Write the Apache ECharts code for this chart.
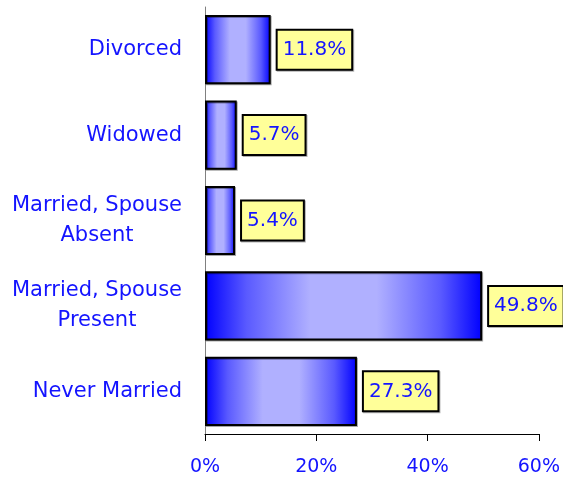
<!DOCTYPE html>
<html>
<head>
<meta charset="utf-8">
<script src="https://cdn.jsdelivr.net/npm/echarts@6/dist/echarts.min.js"></script>
<style>
  html, body { margin: 0; padding: 0; background: #fff; }
  #chart { width: 563px; height: 484px; }
</style>
</head>
<body>
<div id="chart"></div>
<script>
// bottom to top, as the category axis draws them
var categories = ['Never Married', 'Married, Spouse\nPresent', 'Married, Spouse\nAbsent', 'Widowed', 'Divorced'];
var shares = [27.3, 49.8, 5.4, 5.7, 11.8];
var xTicks = [0, 20, 40, 60];

var blue = '#1414ff';
var font = 'DejaVu Sans';

var chart = echarts.init(document.getElementById('chart'));
chart.setOption({
  animation: false,
  grid: { left: 205, right: 22, top: 7, bottom: 50 },
  xAxis: {
    type: 'value',
    min: xTicks[0],
    max: xTicks[xTicks.length - 1],
    interval: 20,
    splitLine: { show: false },
    axisLine: { show: true, lineStyle: { color: '#000', width: 1 } },
    axisTick: { show: true, length: 7, lineStyle: { color: '#000' } },
    axisLabel: {
      margin: 24,
      color: blue,
      fontFamily: font,
      fontSize: 19,
      formatter: '{value}%'
    }
  },
  yAxis: {
    type: 'category',
    data: categories,
    axisLine: { lineStyle: { color: '#808080' } },
    axisTick: { length: 8, lineStyle: { color: '#808080' } },
    axisLabel: {
      margin: 23,
      color: blue,
      fontFamily: font,
      fontSize: 21,
      lineHeight: 30,
      formatter: function (v) {
        return v.split('\n').map(function (s) { return '{c|' + s + '}'; }).join('\n');
      },
      rich: {
        c: { align: 'center', color: blue, fontFamily: font, fontSize: 21, lineHeight: 30 }
      }
    }
  },
  series: [{
    type: 'bar',
    data: shares,
    barCategoryGap: '19%',
    itemStyle: {
      color: new echarts.graphic.LinearGradient(0, 0, 1, 0, [
        { offset: 0, color: '#0000ff' },
        { offset: 0.15, color: '#5a5aff' },
        { offset: 0.38, color: '#b0b0ff' },
        { offset: 0.62, color: '#b0b0ff' },
        { offset: 0.85, color: '#5a5aff' },
        { offset: 1, color: '#0000ff' }
      ]),
      borderColor: '#000',
      borderWidth: 2,
      shadowColor: 'rgba(0,0,0,0.35)',
      shadowOffsetX: 1,
      shadowOffsetY: 1
    },
    label: {
      show: true,
      position: 'right',
      distance: 7,
      formatter: function (p) { return p.value.toFixed(1) + '%'; },
      color: blue,
      fontFamily: font,
      fontSize: 20,
      backgroundColor: '#ffff99',
      borderColor: '#000',
      borderWidth: 2,
      padding: [10, 5, 8, 5],
      shadowColor: 'rgba(0,0,0,0.3)',
      shadowOffsetX: 1,
      shadowOffsetY: 1
    }
  }]
});
</script>
</body>
</html>
